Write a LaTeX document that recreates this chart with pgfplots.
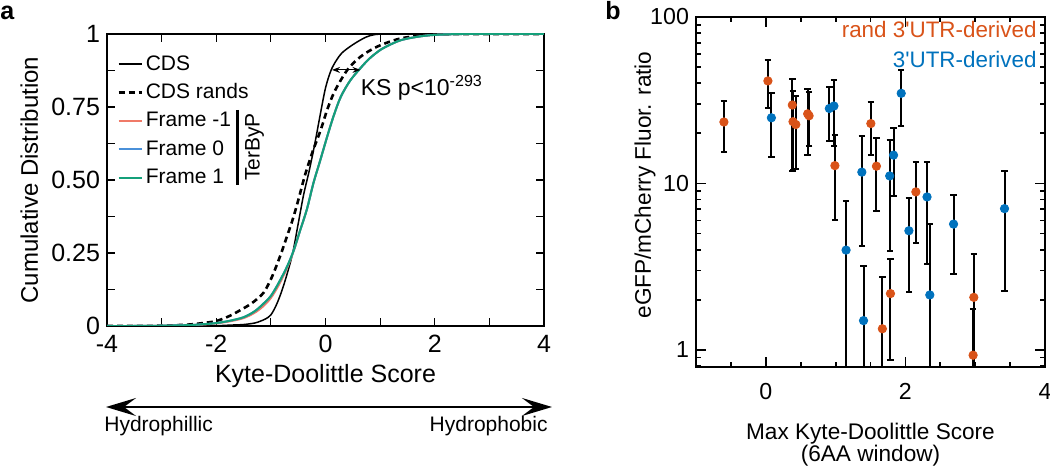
\documentclass[border=0pt]{standalone}
\usepackage{fontspec}
\setmainfont{Liberation Sans}
\usepackage{pgfplots}
\usepackage{pgfplotstable}
\pgfplotsset{compat=1.18}
\usetikzlibrary{arrows.meta}
\definecolor{fr1}{HTML}{F07A68}
\definecolor{fr0}{HTML}{4A90D9}
\definecolor{fr2}{HTML}{14A07A}
\definecolor{orc}{HTML}{D95319}
\definecolor{blc}{HTML}{0072BD}

\pgfplotstableread{
x y
-4 0
-3.5 0
-3 0
-2.5 0.0005
-2 0.001
-1.75 0.003
-1.5 0.005
-1.3 0.01
-1.2 0.016
-1.1 0.024
-1.0 0.038
-0.9 0.072
-0.8 0.12
-0.7 0.18
-0.6 0.25
-0.5 0.35
-0.4 0.45
-0.3 0.53
-0.2 0.62
-0.1 0.72
0.0 0.815
0.1 0.875
0.2 0.91
0.3 0.935
0.45 0.957
0.6 0.975
0.75 0.99
0.9 0.998
1.1 1.0
1.5 1.0
2 1
2.5 1
3 1
3.5 1
4 1
}\cds

\pgfplotstableread{
x y
-4 0
-3.5 0
-3 0.001
-2.5 0.005
-2.25 0.01
-2 0.017
-1.75 0.035
-1.45 0.066
-1.3 0.085
-1.13 0.115
-1.0 0.16
-0.9 0.205
-0.8 0.255
-0.7 0.31
-0.6 0.365
-0.5 0.43
-0.37 0.52
-0.23 0.6
-0.09 0.67
0.03 0.74
0.15 0.797
0.28 0.842
0.4 0.877
0.52 0.902
0.64 0.922
0.8 0.942
0.95 0.957
1.15 0.972
1.38 0.985
1.7 0.994
2 0.998
2.5 1
3 1
3.5 1
4 1
}\rands

\pgfplotstableread{
x y
-4 0
-3.5 0
-3 0.001
-2.5 0.003
-2.25 0.005
-2 0.009
-1.75 0.016
-1.5 0.027
-1.3 0.045
-1.15 0.066
-1.0 0.096
-0.85 0.142
-0.7 0.2
-0.58 0.258
-0.46 0.33
-0.34 0.40
-0.22 0.49
-0.1 0.565
0.03 0.648
0.15 0.72
0.28 0.785
0.45 0.84
0.64 0.883
0.8 0.915
1.0 0.945
1.2 0.965
1.4 0.98
1.7 0.991
2.0 0.997
2.5 1.0
3 1
3.5 1
4 1
}\frameM

\pgfplotstableread{
x y
-4 0
-3.5 0
-3 0.001
-2.5 0.003
-2.25 0.006
-2 0.01
-1.75 0.018
-1.5 0.03
-1.3 0.05
-1.15 0.074
-1.0 0.103
-0.85 0.15
-0.7 0.205
-0.58 0.26
-0.46 0.33
-0.34 0.40
-0.22 0.49
-0.1 0.565
0.03 0.648
0.15 0.72
0.28 0.785
0.45 0.84
0.64 0.883
0.8 0.915
1.0 0.945
1.2 0.965
1.4 0.98
1.7 0.991
2.0 0.997
2.5 1.0
3 1
3.5 1
4 1
}\frameZ

\pgfplotstableread{
x y
-4 0
-3.5 0
-3 0.001
-2.5 0.003
-2.25 0.006
-2 0.01
-1.75 0.018
-1.5 0.03
-1.3 0.05
-1.15 0.074
-1.0 0.103
-0.85 0.15
-0.7 0.205
-0.58 0.26
-0.46 0.33
-0.34 0.40
-0.22 0.49
-0.1 0.565
0.03 0.648
0.15 0.72
0.28 0.785
0.45 0.84
0.64 0.883
0.8 0.915
1.0 0.945
1.2 0.965
1.4 0.98
1.7 0.991
2.0 0.997
2.5 1.0
3 1
3.5 1
4 1
}\frameP

% rand 3'UTR-derived: x, y, error plus, error minus
\pgfplotstableread{
x y ep em
-0.60 23.4 8.1 8.0
0.03 41.3 13.8 12.8
0.38 29.6 12.7 17.8
0.39 23.5 12.5 11.5
0.43 22.6 10.9 10.4
0.60 26.2 10.9 11.4
0.62 25.5 10.0 8.8
0.99 12.8 6.7 6.8
1.505 22.9 7.9 8.0
1.585 12.7 6.0 5.9
1.67 1.34 1.41 0.84
1.786 2.18 1.33 1.31
2.15 8.9 4.5 4.5
2.98 2.07 1.70 1.57
2.97 0.93 0.82 0.43
}\orangedata

% 3'UTR-derived
\pgfplotstableread{
x y ep em
0.08 24.8 10.3 10.3
0.91 28.2 9.8 10.3
0.976 29.2 12.7 12.3
1.15 3.98 3.92 3.48
1.376 11.7 7.5 7.47
1.40 1.50 1.70 1.00
1.775 11.1 7.2 7.15
1.83 14.8 6.8 6.4
1.94 34.8 13.1 12.7
2.05 5.2 3.0 2.96
2.31 8.3 5.1 5.02
2.35 2.14 3.56 1.64
2.69 5.7 2.8 2.83
3.42 7.06 4.84 4.8
}\bluedata

\begin{document}
\begin{tikzpicture}
\useasboundingbox (0,0) rectangle (525pt,-237.5pt);

% ---------------- panel a ----------------
\begin{axis}[
  at={(53.5pt,-163pt)}, anchor=south west,
  scale only axis, width=218.5pt, height=146pt,
  xmin=-4, xmax=4, ymin=0, ymax=1,
  xtick={-4,-2,0,2,4}, xticklabels={-4,-2,0,2,4},
  minor xtick={-3,-1,1,3},
  ytick={0,0.25,0.5,0.75,1}, yticklabels={0,0.25,0.50,0.75,1},
  minor ytick={0.125,0.375,0.625,0.875},
  tick align=inside, major tick length=4pt, minor tick length=4pt,
  tick style={black, line width=0.6pt},
  axis line style={black, line width=0.7pt},
  xticklabel style={font=\fontsize{12.5}{14}\selectfont, yshift=-1pt},
  yticklabel style={font=\fontsize{12.5}{14}\selectfont},
  xlabel={Kyte-Doolittle Score},
  ylabel={Cumulative Distribution},
  xlabel style={font=\fontsize{12.5}{14}\selectfont, at={(axis description cs:0.5,-0.171)}, anchor=center},
  ylabel style={font=\fontsize{12}{14}\selectfont, at={(axis description cs:-0.178,0.5)}, anchor=center},
  legend cell align=left,
  legend style={at={(axis cs:-3.82,0.943)}, anchor=north west, draw=none, fill=none,
    font=\fontsize{10.5}{12}\selectfont, row sep=1.2pt, inner sep=0pt,
    nodes={inner sep=1.5pt, text height=8pt, text depth=2pt}},
  legend image code/.code={\draw[#1] (0pt,0pt) -- (11.5pt,0pt);},
]
\addplot[black, line width=0.75pt, smooth, tension=0.5] table {\cds};
\addlegendentry{CDS}
\addplot[black, line width=1.3pt, dash pattern=on 3pt off 2pt, smooth, tension=0.5] table {\rands};
\addlegendentry{CDS rands}
\addplot[fr1, line width=1pt, smooth, tension=0.5] table {\frameM};
\addlegendentry{Frame -1}
\addplot[fr0, line width=1pt, smooth, tension=0.5] table {\frameZ};
\addlegendentry{Frame 0}
\addplot[fr2, line width=1pt, smooth, tension=0.5] table {\frameP};
\addlegendentry{Frame 1}
\draw[line width=1.5pt] (axis cs:-1.615,0.74) -- (axis cs:-1.615,0.483);
\node[rotate=90, font=\fontsize{10.5}{12}\selectfont] at (axis cs:-1.30,0.613) {TerByP};
\draw[line width=0.5pt, {Stealth[length=4pt,width=3pt]}-{Stealth[length=4pt,width=3pt]}] (axis cs:0.12,0.877) -- (axis cs:0.64,0.877);
\node[anchor=west, inner sep=0pt, font=\fontsize{11.5}{13}\selectfont] at (axis cs:0.64,0.815) {KS p<10\textsuperscript{-293}};
\end{axis}

\draw[line width=1.25pt, {Stealth[length=15pt,width=9pt,inset=6pt]}-{Stealth[length=15pt,width=9pt,inset=6pt]}] (53pt,-203.5pt) -- (276pt,-203.5pt);
\node[anchor=west, inner sep=0pt, font=\fontsize{10.5}{12}\selectfont] at (52pt,-213pt) {Hydrophillic};
\node[anchor=east, inner sep=0pt, font=\fontsize{10.5}{12}\selectfont] at (274pt,-213pt) {Hydrophobic};
\node[anchor=base west, inner sep=0pt, font=\bfseries\fontsize{12.5}{15}\selectfont] at (0pt,-10pt) {a};
\node[anchor=base west, inner sep=0pt, font=\bfseries\fontsize{12.5}{15}\selectfont] at (302.5pt,-10pt) {b};

% ---------------- panel b ----------------
\begin{axis}[
  at={(348pt,-183.5pt)}, anchor=south west,
  scale only axis, width=174.5pt, height=175pt,
  ymode=log,
  xmin=-1, xmax=4, ymin=0.79, ymax=100,
  xtick={0,2,4}, xticklabels={0,2,4},
  minor xtick={-0.5,0.5,1,1.5,2.5,3,3.5},
  ytick={1,10,100}, yticklabels={1,10,100},
  minor ytick={0.8,0.9,2,3,4,5,6,7,8,9,20,30,40,50,60,70,80,90},
  tick align=inside, major tick length=5pt, minor tick length=2.5pt,
  tick style={black, line width=0.9pt},
  axis line style={black, line width=1.2pt},
  xticklabel style={font=\fontsize{11.6}{13}\selectfont, yshift=-4.5pt},
  yticklabel style={font=\fontsize{11.6}{13}\selectfont},
  xlabel={Max Kyte-Doolittle Score\\(6AA window)},
  ylabel={eGFP/mCherry Fluor. ratio},
  xlabel style={font=\fontsize{11.3}{11.3}\selectfont, align=center, at={(axis description cs:0.5,-0.222)}, anchor=center},
  ylabel style={font=\fontsize{11.3}{13}\selectfont, at={(axis description cs:-0.146,0.52)}, anchor=center},
]
\addplot[black, only marks, mark=*, mark size=0pt, forget plot,
  error bars/.cd, y dir=both, y explicit, error mark=|,
  error bar style={black, solid, line width=1pt},
  error mark options={black, solid, line width=1pt, mark size=1.6pt}]
  table[x=x, y=y, y error plus=ep, y error minus=em] {\orangedata};
\addplot[black, only marks, mark=*, mark size=0pt, forget plot,
  error bars/.cd, y dir=both, y explicit, error mark=|,
  error bar style={black, solid, line width=1pt},
  error mark options={black, solid, line width=1pt, mark size=1.6pt}]
  table[x=x, y=y, y error plus=ep, y error minus=em] {\bluedata};
\addplot[only marks, mark=*, mark size=2.1pt, mark options={fill=orc, draw=orc}] table[x=x, y=y] {\orangedata};
\addplot[only marks, mark=*, mark size=2.1pt, mark options={fill=blc, draw=blc}] table[x=x, y=y] {\bluedata};
\node[anchor=base east, inner sep=0pt, text=orc, font=\fontsize{11.2}{13}\selectfont] at (axis description cs:0.977,0.94) {rand 3\textquotesingle UTR-derived};
\node[anchor=base east, inner sep=0pt, text=blc, font=\fontsize{11.2}{13}\selectfont] at (axis description cs:0.977,0.857) {3\textquotesingle UTR-derived};
\end{axis}
\end{tikzpicture}
\end{document}
